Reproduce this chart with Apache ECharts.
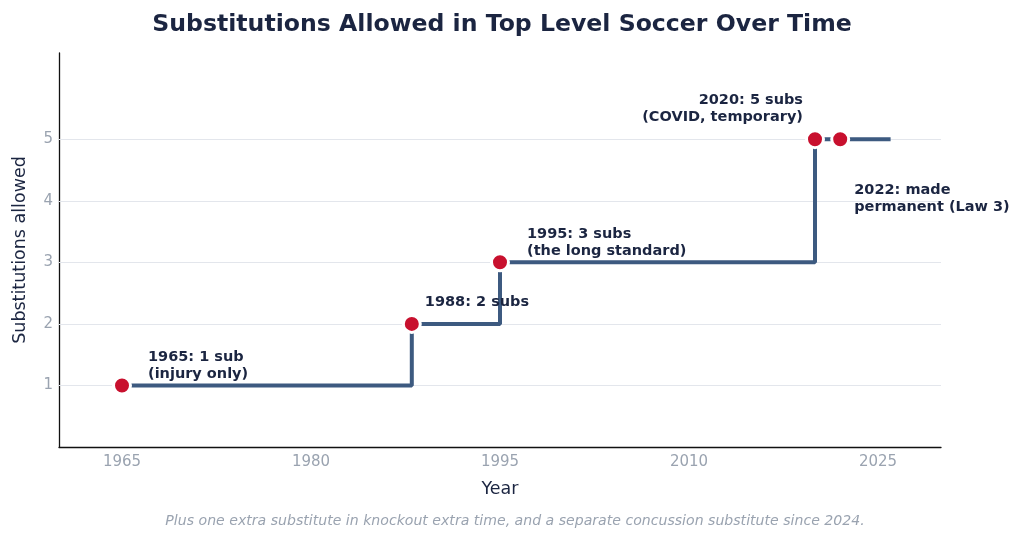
<!DOCTYPE html>
<html><head><meta charset="utf-8">
<script src="https://cdn.jsdelivr.net/npm/echarts@6/dist/echarts.min.js"></script>
<style>html,body{margin:0;padding:0;background:#fff}#c{width:1024px;height:541px}</style>
</head><body><div id="c"></div>
<script>
const years = [1965, 1988, 1995, 2020, 2022, 2026];
const subs = [1, 2, 3, 5, 5, 5];
const notes = ['1965: 1 sub\n(injury only)', '1988: 2 subs', '1995: 3 subs\n(the long standard)', '2020: 5 subs\n(COVID, temporary)', '2022: made\npermanent (Law 3)', ''];
const xTicks = [1965, 1980, 1995, 2010, 2025];
const yTicks = [1, 2, 3, 4, 5];

const NAVY = '#1b2541';
const labelPos = [
  {position: [36, -27], align: 'left'},
  {position: [23, -20], align: 'left'},
  {position: [37, -27], align: 'left'},
  {position: [-2, -37], align: 'right'},
  {position: [24, 53], align: 'left'},
  null
];
const data = years.map((y, i) => {
  const d = {value: [y, subs[i]]};
  if (!notes[i]) { d.symbol = 'none'; d.label = {show: false}; }
  else {
    d.label = {show: true, formatter: notes[i], position: labelPos[i].position, align: labelPos[i].align, verticalAlign: 'top'};
  }
  return d;
});

const chart = echarts.init(document.getElementById('c'), null, {renderer: 'canvas'});
chart.setOption({
  backgroundColor: '#fff',
  animation: false,
  textStyle: {fontFamily: 'DejaVu Sans'},
  title: {
    text: 'Substitutions Allowed in Top Level Soccer Over Time',
    left: 497, top: 8, textAlign: 'center',
    textStyle: {fontFamily: 'DejaVu Sans', fontWeight: 'bold', fontSize: 23.6, color: NAVY}
  },
  graphic: [{
    type: 'text', x: 515, y: 514,
    style: {text: 'Plus one extra substitute in knockout extra time, and a separate concussion substitute since 2024.',
      font: 'italic 14.1px "DejaVu Sans"', fill: '#9aa3b0', textAlign: 'center'}
  }],
  grid: {left: 59, right: 83, top: 53, bottom: 94, containLabel: false, outerBoundsMode: 'none'},
  xAxis: {
    type: 'value', min: 1960, max: 2030, interval: 5,
    name: 'Year', nameLocation: 'middle', nameGap: 33,
    nameTextStyle: {fontSize: 17.5, color: NAVY, fontFamily: 'DejaVu Sans'},
    axisLine: {show: true, onZero: false, lineStyle: {color: '#111', width: 1.3}},
    axisTick: {show: false},
    splitLine: {show: false},
    axisLabel: {customValues: xTicks, fontSize: 15, color: '#9aa3b0', margin: 8, formatter: v => String(v)}
  },
  yAxis: {
    type: 'value', min: 0, max: 6.4, interval: 1,
    name: 'Substitutions allowed', nameLocation: 'middle', nameGap: 30,
    nameTextStyle: {fontSize: 17.5, color: NAVY, fontFamily: 'DejaVu Sans'},
    axisLine: {show: true, lineStyle: {color: '#111', width: 1.3}},
    axisTick: {show: false},
    splitLine: {show: false},
    axisLabel: {customValues: yTicks, fontSize: 15, color: '#9aa3b0', margin: 6}
  },
  series: [
    {
      type: 'line', data: [], z: 1, silent: true,
      markLine: {
        silent: true, symbol: 'none', label: {show: false}, z: 1,
        lineStyle: {color: '#e3e6ec', width: 1.2, type: 'solid'},
        data: yTicks.map(v => ({yAxis: v}))
      }
    },
    {
      type: 'line', step: 'end', z: 3,
      data: data,
      symbol: 'circle', symbolSize: 17,
      lineStyle: {color: '#3d5a80', width: 4},
      itemStyle: {color: '#c8102e', borderColor: '#fff', borderWidth: 3},
      label: {fontFamily: 'DejaVu Sans', fontWeight: 'bold', fontSize: 14.5, lineHeight: 17, color: NAVY}
    }
  ]
});
</script></body></html>
